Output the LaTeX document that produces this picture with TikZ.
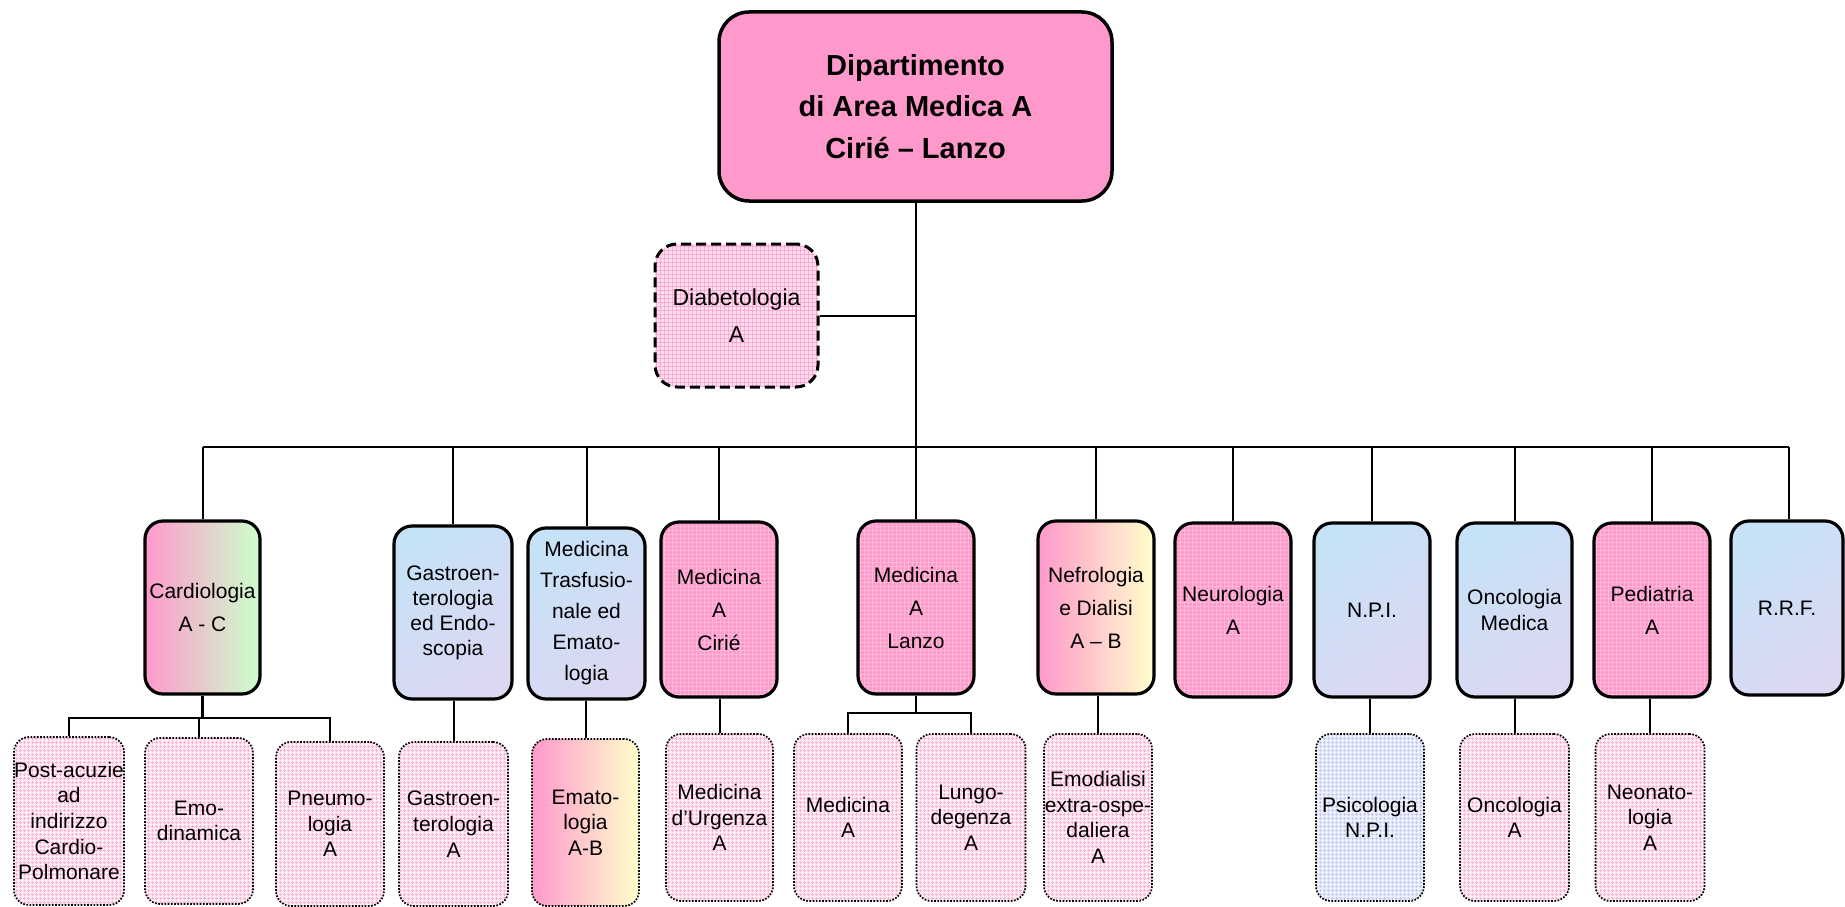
\documentclass[tikz,border=0pt]{standalone}
\usepackage{fontspec}
\setmainfont{Liberation Sans}
\usetikzlibrary{patterns}
\definecolor{pinkA}{HTML}{FF99CC}
\definecolor{pinkGridL}{HTML}{FFBADB}
\definecolor{lpinkBg}{HTML}{FFEEF6}
\definecolor{lpinkGrid}{HTML}{FFB0D5}
\definecolor{dpinkBg}{HTML}{FFE0F0}
\definecolor{dpinkGrid}{HTML}{FFA8D3}
\definecolor{lblueBg}{HTML}{EEF0FC}
\definecolor{lblueGrid}{HTML}{C2CCF2}
\definecolor{blueA}{HTML}{C6E2F7}
\definecolor{blueB}{HTML}{DCD8F2}
\definecolor{greenA}{HTML}{CCFFCC}
\definecolor{yellowA}{HTML}{FFFFCC}
\pgfdeclarepatternformonly{pgrid}{\pgfqpoint{-1pt}{-1pt}}{\pgfqpoint{5pt}{5pt}}{\pgfqpoint{4pt}{4pt}}{%
  \pgfsetlinewidth{1pt}%
  \pgfpathmoveto{\pgfqpoint{0pt}{0pt}}\pgfpathlineto{\pgfqpoint{0pt}{4.1pt}}%
  \pgfpathmoveto{\pgfqpoint{0pt}{0pt}}\pgfpathlineto{\pgfqpoint{4.1pt}{0pt}}%
  \pgfusepath{stroke}}
\tikzset{
  topbox/.style={draw, line width=3.5pt, rounded corners=30pt, fill=pinkA, align=center, inner sep=0pt,
    font=\fontsize{29}{41.7}\selectfont\bfseries},
  lvtwo/.style={draw, line width=3.2pt, rounded corners=18pt, align=center, inner sep=0pt,
    font=\fontsize{21}{33}\selectfont},
  lvthree/.style={draw, line width=1.7pt, dash pattern=on 1.7pt off 1.5pt, rounded corners=15pt, align=center, inner sep=0pt,
    font=\fontsize{21}{25.7}\selectfont},
  diabbox/.style={draw, line width=3pt, dash pattern=on 10pt off 5pt, rounded corners=22pt, align=center, inner sep=0pt,
    font=\fontsize{23}{37}\selectfont,
    preaction={fill=dpinkBg}, preaction={pattern=pgrid, pattern color=dpinkGrid}},
  pinkgrid/.style={preaction={fill=pinkA}, preaction={pattern=pgrid, pattern color=pinkGridL}},
  lpinkgrid/.style={preaction={fill=lpinkBg}, preaction={pattern=pgrid, pattern color=lpinkGrid}},
  lbluegrid/.style={preaction={fill=lblueBg}, preaction={pattern=pgrid, pattern color=lblueGrid}},
  blueshade/.style={top color=blueA, bottom color=blueB, shading angle=35},
  cardshade/.style={left color=pinkA, right color=greenA},
  yelshade/.style={left color=pinkA, right color=yellowA},
  conn/.style={line width=2pt},
  connb/.style={line width=2.8pt},
}
\begin{document}
\begin{tikzpicture}[x=1pt,y=-1pt]
\useasboundingbox (0,0) rectangle (1845,907);
% top
\node[topbox, minimum width=393, minimum height=189] (top) at (915.5,106.5) {Dipartimento\\di Area Medica A\\Cirié – Lanzo};
\node[diabbox, minimum width=163, minimum height=143] (diab) at (736.5,315.5) {Diabetologia\\A};
% level 2
\node[lvtwo, cardshade, minimum width=115, minimum height=173] (card) at (202.5,607.5) {Cardiologia\\A - C};
\node[lvtwo, blueshade, minimum width=118, minimum height=173, font=\fontsize{21}{25}\selectfont] (gastro) at (453,612.5) {Gastroen-\\terologia\\ed Endo-\\scopia};
\node[lvtwo, blueshade, minimum width=117, minimum height=171, font=\fontsize{21}{31}\selectfont] (trasf) at (586.5,613.5) {Medicina\\Trasfusio-\\nale ed\\Emato-\\logia};
\node[lvtwo, pinkgrid, minimum width=116, minimum height=175] (cirie) at (719,609.5) {Medicina\\A\\Cirié};
\node[lvtwo, pinkgrid, minimum width=116, minimum height=173] (lanzo) at (916,607.5) {Medicina\\A\\Lanzo};
\node[lvtwo, yelshade, minimum width=116, minimum height=173] (nefro) at (1096,607.5) {Nefrologia\\e Dialisi\\A – B};
\node[lvtwo, pinkgrid, minimum width=116, minimum height=174] (neuro) at (1233,610) {Neurologia\\A};
\node[lvtwo, blueshade, minimum width=116, minimum height=174] (npi) at (1372,610) {N.P.I.};
\node[lvtwo, blueshade, minimum width=115, minimum height=174, font=\fontsize{21}{26}\selectfont] (onc) at (1514.5,610) {Oncologia\\Medica};
\node[lvtwo, pinkgrid, minimum width=116, minimum height=174] (ped) at (1652,610) {Pediatria\\A};
\node[lvtwo, blueshade, minimum width=112, minimum height=174] (rrf) at (1787,608) {R.R.F.};
% level 3
\node[lvthree, lpinkgrid, minimum width=110, minimum height=168] (post) at (69,821) {Post-acuzie\\ad\\indirizzo\\Cardio-\\Polmonare};
\node[lvthree, lpinkgrid, minimum width=108, minimum height=166] (emod) at (199,821) {Emo-\\dinamica};
\node[lvthree, lpinkgrid, minimum width=108, minimum height=164] (pneumo) at (330,824) {Pneumo-\\logia\\A};
\node[lvthree, lpinkgrid, minimum width=109, minimum height=164] (gastA) at (453.5,824) {Gastroen-\\terologia\\A};
\node[lvthree, yelshade, minimum width=107, minimum height=167] (emat) at (585.5,822.5) {Emato-\\logia\\A-B};
\node[lvthree, lpinkgrid, minimum width=107, minimum height=167] (urg) at (719.5,817.5) {Medicina\\d’Urgenza\\A};
\node[lvthree, lpinkgrid, minimum width=108, minimum height=167] (medA) at (848,817.5) {Medicina\\A};
\node[lvthree, lpinkgrid, minimum width=109, minimum height=167] (lungo) at (971,817.5) {Lungo-\\degenza\\A};
\node[lvthree, lpinkgrid, minimum width=108, minimum height=167] (emodial) at (1098,817.5) {Emodialisi\\extra-ospe-\\daliera\\A};
\node[lvthree, lbluegrid, minimum width=108, minimum height=167] (psico) at (1370,817.5) {Psicologia\\N.P.I.};
\node[lvthree, lpinkgrid, minimum width=109, minimum height=167] (oncA) at (1514.5,817.5) {Oncologia\\A};
\node[lvthree, lpinkgrid, minimum width=109, minimum height=167] (neo) at (1650,817.5) {Neonato-\\logia\\A};
% main connectors
\coordinate (hub) at (916,447);
\coordinate (busL) at (202.5,447);
\coordinate (busR) at (1789,447);
\draw[conn] (top.south) -- (top.south |- hub);
\draw[conn] (busL) -- (busR);
\draw[conn] (diab.east) -- (diab.east -| hub);
\foreach \n in {card,gastro,trasf,cirie,lanzo,nefro,neuro,npi,onc,ped}
  \draw[conn] (\n.north) -- (\n.north |- hub);
\draw[conn] (rrf.north -| busR) -- (busR);
% cardiologia sub-tree
\coordinate (cbus) at (0,718);
\draw[connb] (card.south) -- (card.south |- cbus);
\draw[connb] (post.north) -- (post.north |- cbus) -- (pneumo.north |- cbus) -- (pneumo.north);
\draw[connb] (emod.north) -- (emod.north |- cbus);
% lanzo sub-tree
\coordinate (lbus) at (0,713);
\draw[connb] (lanzo.south) -- (lanzo.south |- lbus);
\draw[connb] (medA.north) -- (medA.north |- lbus) -- (lungo.north |- lbus) -- (lungo.north);
% single children
\draw[conn] (gastA.north) -- (gastA.north |- gastro.south);
\draw[conn] (emat.north) -- (emat.north |- trasf.south);
\draw[conn] (urg.north) -- (urg.north |- cirie.south);
\draw[conn] (emodial.north) -- (emodial.north |- nefro.south);
\draw[conn] (psico.north) -- (psico.north |- npi.south);
\draw[conn] (oncA.north) -- (oncA.north |- onc.south);
\draw[conn] (neo.north) -- (neo.north |- ped.south);
\end{tikzpicture}
\end{document}
